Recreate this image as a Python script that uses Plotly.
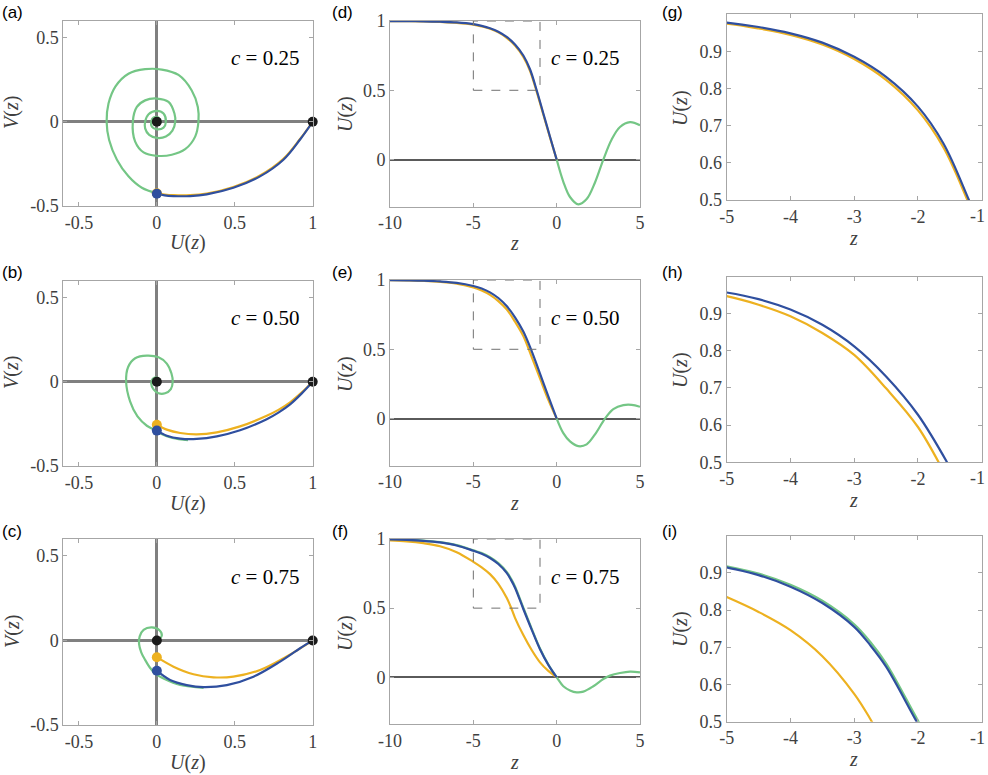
import plotly.graph_objects as go

# colours
GREEN = "#74c685"
ORANGE = "#edb120"
BLUE = "#2f4f9f"
BLACK = "#1a1a1a"
BOX = "#a6a6a6"
SERIF = "Liberation Serif"
SANS = "Liberation Sans"

c_labels = ["0.25", "0.50", "0.75"]
panel_letters = [["(a)", "(d)", "(g)"], ["(b)", "(e)", "(h)"], ["(c)", "(f)", "(i)"]]

# ---- phase plane (U, V) curves ----
green_a = [(0, -0.425), (-0.096, -0.392), (-0.182, -0.324), (-0.256, -0.225), (-0.306, -0.108),
           (-0.322, 0), (-0.31, 0.108), (-0.265, 0.21), (-0.182, 0.285), (-0.075, 0.312),
           (0.032, 0.31), (0.139, 0.278), (0.224, 0.186), (0.263, 0.088), (0.267, 0),
           (0.246, -0.088), (0.182, -0.163), (0.096, -0.196), (0, -0.202), (-0.085, -0.182),
           (-0.139, -0.118), (-0.154, 0), (-0.128, 0.088), (-0.075, 0.127), (0, 0.138),
           (0.075, 0.118), (0.113, 0.049), (0.118, 0), (0.1, -0.053), (0.058, -0.088),
           (0, -0.096), (-0.049, -0.078), (-0.075, -0.039), (-0.075, 0), (-0.053, 0.045),
           (0, 0.065), (0.043, 0.049), (0.058, 0), (0.043, -0.035), (0, -0.045),
           (-0.032, -0.029), (-0.036, 0), (-0.021, 0.025), (0.011, 0.025), (0.024, 0),
           (0, -0.02), (-0.011, 0), (0, 0)]
orange_a = [(0, -0.425), (0.05, -0.432), (0.107, -0.436), (0.214, -0.436), (0.32, -0.426),
            (0.491, -0.387), (0.662, -0.319), (0.812, -0.22), (0.919, -0.102), (1, 0)]
blue_a = [(0, -0.427), (0.05, -0.437), (0.107, -0.441), (0.214, -0.441), (0.32, -0.431),
          (0.491, -0.392), (0.662, -0.324), (0.812, -0.225), (0.919, -0.105), (1, 0)]

green_b = [(0.2, -0.347), (0.1, -0.334), (0.03, -0.31), (0, -0.292), (-0.064, -0.261),
           (-0.124, -0.206), (-0.171, -0.118), (-0.197, 0), (-0.184, 0.088), (-0.139, 0.14),
           (-0.064, 0.155), (0.011, 0.145), (0.064, 0.108), (0.094, 0.049), (0.102, 0),
           (0.09, -0.043), (0.053, -0.068), (0.011, -0.068), (-0.021, -0.045), (-0.036, -0.01),
           (-0.026, 0.018), (0, 0.025), (0.017, 0.01), (0.01, -0.006), (0, 0)]
orange_b = [(0, -0.255), (0.064, -0.284), (0.15, -0.304), (0.256, -0.312), (0.385, -0.3),
            (0.534, -0.265), (0.705, -0.202), (0.78, -0.167), (0.855, -0.122), (0.93, -0.063), (1, 0)]
blue_b = [(0, -0.29), (0.064, -0.32), (0.15, -0.337), (0.256, -0.339), (0.385, -0.324),
          (0.534, -0.288), (0.705, -0.222), (0.78, -0.183), (0.855, -0.134), (0.93, -0.069), (1, 0)]

green_c = [(0.3, -0.28), (0.15, -0.263), (0.05, -0.228), (-0.01, -0.196), (-0.045, -0.16),
           (-0.075, -0.115), (-0.1, -0.07), (-0.114, -0.02), (-0.11, 0.024), (-0.085, 0.063),
           (-0.032, 0.077), (0.017, 0.06), (0.032, 0.028), (0.011, 0.004), (0, 0)]
orange_c = [(0, -0.099), (0.107, -0.155), (0.235, -0.2), (0.363, -0.218), (0.491, -0.214),
            (0.662, -0.175), (0.833, -0.095), (0.92, -0.047), (1, 0)]
blue_c = [(0, -0.179), (0.085, -0.234), (0.192, -0.264), (0.299, -0.276), (0.449, -0.264),
          (0.62, -0.214), (0.791, -0.125), (0.919, -0.046), (1, 0)]

fixed_points = [(0, 0), (1, 0)]

# ---- travelling wave profiles U(z) ----
z_d = [-10, -9, -8, -7, -6, -5, -4.5, -4, -3.5, -3, -2.5, -2, -1.6, -1.2, -0.8, -0.4, 0]
blue_d = [0.9995, 0.999, 0.998, 0.995, 0.9895, 0.977, 0.965, 0.948, 0.923, 0.885, 0.831, 0.751, 0.652, 0.5, 0.333, 0.165, 0]
orange_d = [0.9993, 0.9985, 0.997, 0.993, 0.987, 0.974, 0.961, 0.944, 0.918, 0.879, 0.823, 0.741, 0.641, 0.49, 0.325, 0.16, 0]
zg_d = [0, 0.4, 0.8, 1.3, 1.8, 2.3, 2.8, 3.3, 3.8, 4.4, 5]
green_d = [0, -0.16, -0.27, -0.323, -0.285, -0.165, 0, 0.145, 0.235, 0.27, 0.248]

z_e = [-10, -9, -8, -7, -6, -5, -4.5, -4, -3.5, -3, -2.5, -2, -1.5, -1, -0.5, 0]
blue_e = [0.9988, 0.9975, 0.995, 0.9895, 0.979, 0.957, 0.939, 0.911, 0.87, 0.812, 0.731, 0.628, 0.487, 0.325, 0.16, 0]
orange_e = [0.9984, 0.9968, 0.9935, 0.987, 0.974, 0.947, 0.924, 0.893, 0.848, 0.789, 0.699, 0.595, 0.445, 0.29, 0.135, 0]
zg_e = [0, 0.4, 0.8, 1.3, 1.8, 2.3, 2.9, 3.4, 4.0, 4.5, 5]
green_e = [0, -0.105, -0.165, -0.199, -0.186, -0.114, 0, 0.068, 0.097, 0.099, 0.085]

z_f = [-10, -9, -8, -7, -6, -5, -4.5, -4, -3.5, -3, -2.75, -2.5, -2, -1.5, -1, -0.5, 0]
blue_f = [0.997, 0.994, 0.987, 0.975, 0.953, 0.915, 0.894, 0.863, 0.819, 0.755, 0.706, 0.648, 0.494, 0.345, 0.203, 0.09, 0]
orange_f = [0.99, 0.983, 0.97, 0.948, 0.905, 0.835, 0.795, 0.746, 0.676, 0.575, 0.508, 0.43, 0.305, 0.197, 0.108, 0.046, 0]
zg_f = [-10, -9, -8, -7, -6, -5, -4.5, -4, -3.5, -3, -2.75, -2.5, -2, -1.5, -1, -0.5, 0,
        0.4, 0.8, 1.2, 1.6, 2.2, 2.8, 3.2, 3.8, 4.4, 5]
green_f = [0.997, 0.995, 0.988, 0.977, 0.956, 0.918, 0.898, 0.868, 0.825, 0.762, 0.715, 0.657, 0.503, 0.352, 0.208, 0.092, 0,
           -0.065, -0.095, -0.109, -0.104, -0.065, -0.012, 0.012, 0.031, 0.041, 0.036]

inset_z = [-5, -1]
inset_u = [0.5, 1]

phase_sets = [(green_a, orange_a, blue_a), (green_b, orange_b, blue_b), (green_c, orange_c, blue_c)]
profile_sets = [(z_d, blue_d, orange_d, zg_d, green_d),
                (z_e, blue_e, orange_e, zg_e, green_e),
                (z_f, blue_f, orange_f, zg_f, green_f)]

W, H = 988, 775
# panel boxes in pixels: (left, right, top, bottom)
boxes = [[(63.3, 312.7, 20.7, 206), (390, 640, 21, 206.7), (726.7, 981.7, 14, 200)],
         [(63.3, 312.7, 280.7, 466), (390, 640, 280, 465.7), (726.7, 981.7, 276.5, 462.3)],
         [(63.3, 312.7, 539, 725), (390, 640, 539, 724.3), (726.7, 981.7, 535.7, 721.7)]]
row_off = [0, 260, 519]


def px(x):
    return x / W


def py(y):
    return 1 - y / H


def axis(rng, vals, texts, dom, anchor, zl=False, zlc="#808080", zlw=2.5):
    return dict(range=rng, domain=dom, anchor=anchor, tickvals=vals, ticktext=texts,
                showline=True, mirror="ticks", linecolor=BOX, linewidth=1,
                ticks="inside", ticklen=4, tickcolor=BOX, showgrid=False,
                zeroline=zl, zerolinecolor=zlc, zerolinewidth=zlw,
                tickfont=dict(family=SERIF, size=18, color="#404040"))


fig = go.Figure()
layout = {}
annotations = []
shapes = []


def line(xs, ys, color, n, width=2.2):
    fig.add_trace(go.Scatter(x=xs, y=ys, mode="lines",
                             line=dict(color=color, width=width, shape="spline", smoothing=1.0),
                             xaxis=f"x{n}", yaxis=f"y{n}", showlegend=False, hoverinfo="skip"))


def dots(xs, ys, color, n):
    fig.add_trace(go.Scatter(x=xs, y=ys, mode="markers", marker=dict(color=color, size=10),
                             xaxis=f"x{n}", yaxis=f"y{n}", showlegend=False, hoverinfo="skip",
                             cliponaxis=False))


def note(x, y, text, size=20, angle=0, family=SERIF, color="#404040", xanchor="center"):
    annotations.append(dict(x=px(x), y=py(y), xref="paper", yref="paper", text=text, showarrow=False,
                            xanchor=xanchor, yanchor="middle", textangle=angle,
                            font=dict(family=family, size=size, color=color)))


for r in range(3):
    for col in range(3):
        n = r * 3 + col + 1
        l, rr, t, b = boxes[r][col]
        xd = [px(l), px(rr)]
        yd = [py(b), py(t)]
        sfx = "" if n == 1 else str(n)
        if col == 0:
            layout["xaxis" + sfx] = axis([-0.6, 1], [-0.5, 0, 0.5, 1], ["-0.5", "0", "0.5", "1"], xd, f"y{n}", zl=True)
            layout["yaxis" + sfx] = axis([-0.5, 0.6], [-0.5, 0, 0.5], ["-0.5", "0", "0.5"], yd, f"x{n}", zl=True)
            g, o, bl = phase_sets[r]
            line([p[0] for p in g], [p[1] for p in g], GREEN, n)
            line([p[0] for p in o], [p[1] for p in o], ORANGE, n)
            line([p[0] for p in bl], [p[1] for p in bl], BLUE, n)
            dots([o[0][0]], [o[0][1]], ORANGE, n)
            dots([bl[0][0]], [bl[0][1]], BLUE, n)
            dots([p[0] for p in fixed_points], [p[1] for p in fixed_points], BLACK, n)
        elif col == 1:
            layout["xaxis" + sfx] = axis([-10, 5], [-10, -5, 0, 5], ["-10", "-5", "0", "5"], xd, f"y{n}")
            layout["yaxis" + sfx] = axis([-0.34, 1], [0, 0.5, 1], ["0", "0.5", "1"], yd, f"x{n}",
                                         zl=True, zlc="#5a5a5a", zlw=1.8)
            zz, bu, ou, zg, gu = profile_sets[r]
            line(zg, gu, GREEN, n)
            line(zz, ou, ORANGE, n)
            line(zz, bu, BLUE, n)
            shapes.append(dict(type="rect", xref=f"x{n}", yref=f"y{n}", x0=inset_z[0], x1=inset_z[1],
                               y0=inset_u[0], y1=inset_u[1], line=dict(color="#707070", width=1, dash="dash")))
        else:
            # the last label (-1) sits on the page edge, so it is placed as a right-aligned note
            layout["xaxis" + sfx] = axis([-5, -1], [-5, -4, -3, -2, -1], ["-5", "-4", "-3", "-2", ""], xd, f"y{n}")
            layout["yaxis" + sfx] = axis([0.5, 1], [0.5, 0.6, 0.7, 0.8, 0.9],
                                         ["0.5", "0.6", "0.7", "0.8", "0.9"], yd, f"x{n}")
            zz, bu, ou, zg, gu = profile_sets[r]
            line(zg, gu, GREEN, n)
            line(zz, ou, ORANGE, n)
            line(zz, bu, BLUE, n)
            note(987, b + 16, "-1", size=18, xanchor="right")

        # panel letter
        note([0, 330, 660][col], 12 + row_off[r], panel_letters[r][col], size=17, family=SANS,
             color="black", xanchor="left")

    off = row_off[r]
    roff = [0, 262, 521][r]
    # axis titles
    note(188, 243 + off, "<i>U</i>(<i>z</i>)")
    note(12, 113 + off, "<i>V</i>(<i>z</i>)", angle=-90)
    note(514, 243 + off, "<i>z</i>")
    note(345, 114 + off, "<i>U</i>(<i>z</i>)", angle=-90)
    note(853, 238 + roff, "<i>z</i>")
    note(680, 108 + roff, "<i>U</i>(<i>z</i>)", angle=-90)
    # c labels
    ctext = "<i>c</i> = " + c_labels[r]
    note(265, 58 + off, ctext, size=21, color="black")
    note(585, 58 + off, ctext, size=21, color="black")

fig.update_layout(width=W, height=H, margin=dict(l=0, r=0, t=0, b=0), template="none",
                  paper_bgcolor="white", plot_bgcolor="white", annotations=annotations, shapes=shapes, **layout)

fig.write_html("out.html", config={"displayModeBar": False},
               post_script="document.body.style.margin='0px';")
